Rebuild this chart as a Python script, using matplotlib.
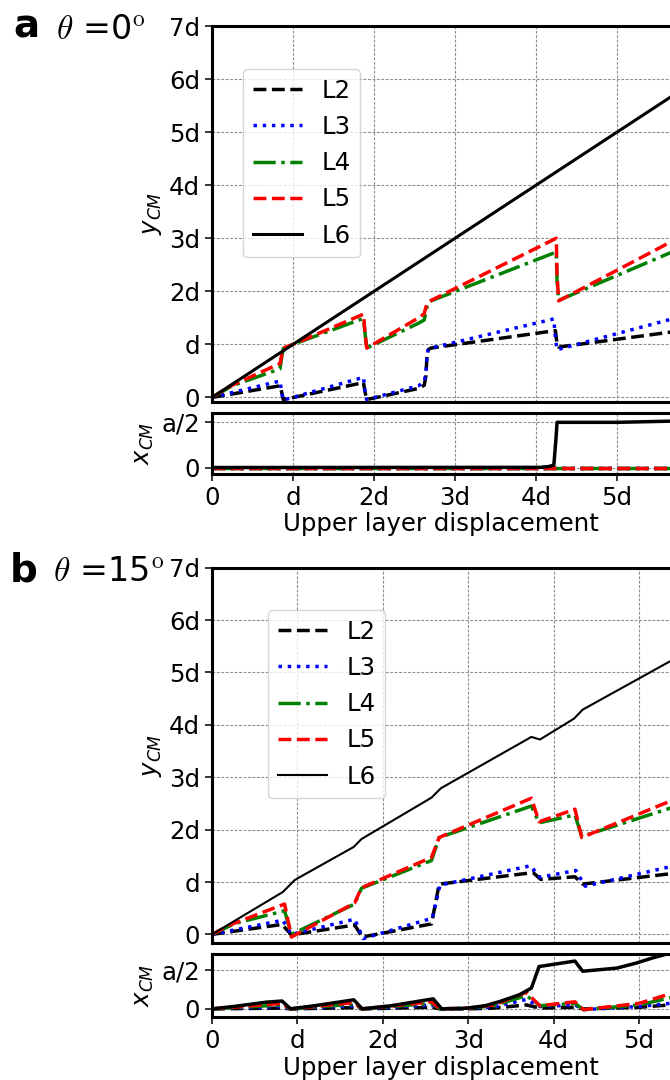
import matplotlib
matplotlib.use("Agg")
import matplotlib.pyplot as plt

plt.rcParams['font.family'] = ['DejaVu Sans']
plt.rcParams['font.size'] = 17.6

# ---------------- data (x in units of d, y_CM in units of d, x_CM in units of a)
tick_x = [0, 1, 2, 3, 4, 5]
tick_x_labels = ['0', 'd', '2d', '3d', '4d', '5d']
tick_d = [0, 1, 2, 3, 4, 5, 6, 7]
tick_d_labels = ['0', 'd', '2d', '3d', '4d', '5d', '6d', '7d']
tick_a = [0, 0.5]
tick_a_labels = ['0', 'a/2']
layer_names = ['L2', 'L3', 'L4', 'L5', 'L6']

# theta = 0 deg : y_CM
a_L2_x = [0, 0.84, 0.86, 0.88, 1.87, 1.89, 1.91, 2.55, 2.62, 2.64, 2.655, 2.67, 2.70, 4.24, 4.26, 4.28, 6.0]
a_L2_y = [0, 0.22, 0.10, -0.04, 0.28, 0.10, -0.04, 0.17, 0.23, 0.40, 0.80, 0.90, 0.93, 1.26, 1.00, 0.95, 1.30]
a_L3_x = [0, 0.84, 0.86, 0.88, 1.87, 1.89, 1.91, 2.55, 2.62, 2.64, 2.655, 2.67, 2.70, 4.22, 4.24, 4.26, 6.0]
a_L3_y = [0, 0.31, 0.10, -0.05, 0.38, 0.10, -0.04, 0.22, 0.30, 0.45, 0.80, 0.90, 0.93, 1.48, 1.10, 0.90, 1.61]
a_L4_x = [0, 0.25, 0.84, 0.86, 0.88, 1.0, 1.87, 1.89, 1.91, 2.55, 2.62, 2.64, 2.66, 2.68, 2.72, 4.25, 4.26, 4.28, 6.0]
a_L4_y = [0, 0.22, 0.54, 0.75, 0.92, 1.0, 1.49, 1.20, 0.93, 1.40, 1.46, 1.60, 1.75, 1.80, 1.83, 2.74, 2.20, 1.83, 2.95]
a_L5_x = [0, 0.22, 0.84, 0.86, 0.88, 1.0, 1.87, 1.89, 1.91, 2.55, 2.62, 2.64, 2.66, 2.68, 2.72, 4.25, 4.26, 4.28, 6.0]
a_L5_y = [0, 0.21, 0.64, 0.80, 0.93, 1.0, 1.57, 1.20, 0.93, 1.50, 1.58, 1.70, 1.78, 1.81, 1.84, 3.00, 2.30, 1.82, 3.20]
a_L6_x = [0, 7.0]
a_L6_y = [0, 7.0]

# theta = 0 deg : x_CM
a_xcm_flat_x = [0, 7.0]
a_xcm_flat_y = [0, 0]
a_xcm_L6_x = [0, 4.05, 4.15, 4.22, 4.245, 4.26, 4.30, 5.0, 5.5, 6.0, 7.0]
a_xcm_L6_y = [0, 0.002, 0.01, 0.025, 0.30, 0.50, 0.50, 0.50, 0.51, 0.52, 0.53]

# theta = 15 deg : y_CM
b_L2_x = [0, 0.82, 0.93, 1.67, 1.76, 2.57, 2.66, 3.76, 3.85, 4.25, 4.34, 6.0]
b_L2_y = [0, 0.19, -0.01, 0.18, -0.05, 0.20, 0.96, 1.18, 1.05, 1.10, 0.96, 1.28]
b_L3_x = [0, 0.83, 0.93, 1.67, 1.77, 2.58, 2.67, 3.73, 3.84, 4.26, 4.37, 6.0]
b_L3_y = [0, 0.27, 0.0, 0.29, -0.08, 0.31, 0.94, 1.31, 1.09, 1.22, 0.92, 1.53]
b_L4_x = [0, 0.27, 0.85, 0.93, 1.67, 1.75, 2.57, 2.66, 3.74, 3.83, 4.25, 4.33, 6.0]
b_L4_y = [0, 0.21, 0.45, 0.0, 0.58, 0.88, 1.41, 1.85, 2.45, 2.13, 2.28, 1.87, 2.74]
b_L5_x = [0, 0.21, 0.85, 0.93, 1.67, 1.75, 2.57, 2.66, 3.74, 3.83, 4.25, 4.33, 6.0]
b_L5_y = [0, 0.18, 0.58, -0.05, 0.60, 0.89, 1.47, 1.85, 2.60, 2.15, 2.39, 1.85, 2.97]
b_L6_x = [0, 0.83, 0.97, 1.66, 1.75, 2.57, 2.68, 3.74, 3.84, 4.24, 4.34, 5.36, 6.0]
b_L6_y = [0, 0.81, 1.04, 1.67, 1.82, 2.61, 2.79, 3.77, 3.72, 4.12, 4.29, 5.21, 5.79]

# theta = 15 deg : x_CM
b_xcm_x = [0, 0.82, 0.92, 1.66, 1.76, 2.57, 2.67, 3.0, 3.3, 3.68, 3.84, 4.25, 4.35, 5.0, 5.36, 6.0]
b_xcm_L2 = [0, 0.01, 0, 0.015, 0, 0.02, 0, 0.0, 0.01, 0.05, 0.01, 0.02, 0, 0.02, 0.05, 0.08]
b_xcm_L3 = [0, 0.03, 0, 0.04, 0, 0.05, 0, 0.005, 0.025, 0.12, 0.03, 0.05, -0.01, 0.03, 0.07, 0.15]
b_xcm_L4 = [0, 0.05, 0, 0.06, 0, 0.07, 0, 0.01, 0.04, 0.17, 0.04, 0.07, -0.01, 0.05, 0.14, 0.30]
b_xcm_L5 = [0, 0.07, 0, 0.08, 0, 0.09, 0, 0.01, 0.05, 0.21, 0.04, 0.09, -0.01, 0.07, 0.19, 0.40]
b_xcm_L6_x = [0, 0.25, 0.64, 0.82, 0.92, 1.2, 1.66, 1.76, 2.1, 2.59, 2.69, 2.98, 3.2, 3.37, 3.6, 3.74, 3.83,
              4.25, 4.34, 4.74, 4.97, 5.16, 5.36, 6.0]
b_xcm_L6_y = [0, 0.03, 0.086, 0.10, 0.0, 0.04, 0.115, 0.0, 0.04, 0.128, 0.0, 0.008, 0.04, 0.094, 0.18, 0.265,
              0.54, 0.61, 0.48, 0.52, 0.585, 0.65, 0.71, 0.95]

styles = {
    'L2': dict(color='black', linestyle='--'),
    'L3': dict(color='blue', linestyle=':'),
    'L4': dict(color='green', linestyle='-.'),
    'L5': dict(color='red', linestyle='--'),
    'L6': dict(color='black', linestyle='-'),
}

W, H = 670, 1080
AX_LEFT, AX_RIGHT = 212, 779
fig = plt.figure(figsize=(W / 100, H / 100), dpi=100)


def px_axes(left, top, right, bottom):
    return fig.add_axes([left / W, 1 - bottom / H, (right - left) / W, (bottom - top) / H])


def style_axes(ax):
    for s in ax.spines.values():
        s.set_linewidth(2.2)
    ax.grid(True, linestyle=(0, (2.5, 1.5)), linewidth=0.8, color='0.55')
    ax.tick_params(width=1.1, length=5)


def make_panel(top_main, bot_main, top_x, bot_x, xmax, ylo, xcm_lim, series, xcm_series,
               leg_xy, l6_lw):
    ax = px_axes(AX_LEFT, top_main, AX_RIGHT, bot_main)
    axx = px_axes(AX_LEFT, top_x, AX_RIGHT, bot_x)
    for name, (xs, ys) in zip(layer_names, series):
        lw = l6_lw if name == 'L6' else 2.5
        ax.plot(xs, ys, lw=lw, label=name, **styles[name])
    for name, (xs, ys) in zip(layer_names, xcm_series):
        axx.plot(xs, ys, lw=2.5, **styles[name])
    ax.set_xlim(0, xmax)
    ax.set_ylim(ylo, 7)
    ax.set_yticks(tick_d, tick_d_labels)
    ax.set_xticks(tick_x)
    ax.tick_params(axis='x', labelbottom=False)
    ax.set_ylabel(r'$y_{CM}$')
    axx.set_xlim(0, xmax)
    axx.set_ylim(*xcm_lim)
    axx.set_xticks(tick_x, tick_x_labels)
    axx.set_yticks(tick_a, tick_a_labels)
    axx.set_ylabel(r'$x_{CM}$')
    axx.set_xlabel('Upper layer displacement', labelpad=2)
    # centre the axis title on the visible part of the axes
    axx.xaxis.set_label_coords((441 - AX_LEFT) / (AX_RIGHT - AX_LEFT), -0.62)
    style_axes(ax)
    style_axes(axx)
    ax.tick_params(axis='x', length=0)
    ax.legend(loc='upper left', bbox_to_anchor=(leg_xy[0] / W, 1 - leg_xy[1] / H),
              bbox_transform=fig.transFigure, borderaxespad=0)
    return ax, axx


make_panel(26, 401.7, 413.3, 474.3, 7.0, -0.08, (-0.075, 0.6),
           [(a_L2_x, a_L2_y), (a_L3_x, a_L3_y), (a_L4_x, a_L4_y), (a_L5_x, a_L5_y), (a_L6_x, a_L6_y)],
           [(a_xcm_flat_x, a_xcm_flat_y)] * 4 + [(a_xcm_L6_x, a_xcm_L6_y)],
           (243, 69), 2.2)

make_panel(567.7, 943.3, 954, 1016.7, 567 / 85.4, -0.17, (-0.1, 0.7),
           [(b_L2_x, b_L2_y), (b_L3_x, b_L3_y), (b_L4_x, b_L4_y), (b_L5_x, b_L5_y), (b_L6_x, b_L6_y)],
           [(b_xcm_x, b_xcm_L2), (b_xcm_x, b_xcm_L3), (b_xcm_x, b_xcm_L4), (b_xcm_x, b_xcm_L5),
            (b_xcm_L6_x, b_xcm_L6_y)],
           (268, 610), 1.5)

fig.text(13 / W, 1 - 38 / H, 'a', fontsize=28, fontweight='bold', va='baseline')
fig.text(56 / W, 1 - 39 / H, r'$\theta$ =0$^{\mathrm{o}}$', fontsize=24, math_fontfamily='cm', va='baseline')
fig.text(10 / W, 1 - 581 / H, 'b', fontsize=28, fontweight='bold', va='baseline')
fig.text(53 / W, 1 - 581 / H, r'$\theta$ =15$^{\mathrm{o}}$', fontsize=24, math_fontfamily='cm', va='baseline')

fig.savefig('out.png', dpi=100)
